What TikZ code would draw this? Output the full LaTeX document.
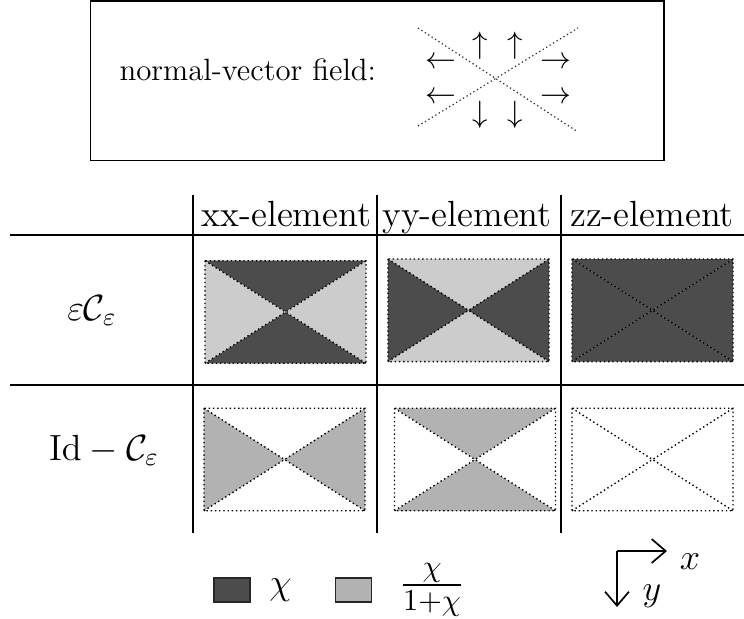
\RequirePackage{fix-cm}
\documentclass[tikz,border=0pt]{standalone}
\usepackage{amsmath}
\usetikzlibrary{arrows.meta,positioning}

\colorlet{chidark}{black!70}
\colorlet{chilight}{black!20}
\colorlet{chimid}{black!30}

% cell name, top/bottom fill, left/right fill
\newcommand{\hglass}[3]{%
  \fill[#2] (#1.north west) -- (#1.north east) -- (#1.center) -- cycle
            (#1.south west) -- (#1.south east) -- (#1.center) -- cycle;
  \fill[#3] (#1.north west) -- (#1.south west) -- (#1.center) -- cycle
            (#1.north east) -- (#1.south east) -- (#1.center) -- cycle;
  \draw[edgedot] (#1.north west) rectangle (#1.south east)
        (#1.north west) -- (#1.south east) (#1.south west) -- (#1.north east);}

\begin{document}
\begin{tikzpicture}[x=0.357pt, y=-0.357pt, >={Straight Barb[length=5pt,width=8.5pt]},
  edgedot/.style={densely dotted, line width=0.5pt},
  cell/.style={minimum width=57.5pt, minimum height=36.6pt, inner sep=0pt, outer sep=0pt},
  head/.style={font=\fontsize{13}{15}\selectfont, anchor=base, inner sep=0pt},
  nv/.style={inner sep=0pt, font=\fontsize{11}{13}\selectfont},
  tline/.style={line width=0.6pt},
  key/.style={draw=black!85, line width=0.5pt, minimum width=12.9pt, minimum height=8.6pt, inner sep=0pt}]
\useasboundingbox (0,0) rectangle (744,618);

% normal-vector box
\draw[line width=0.7pt] (90.5,1) rectangle (664,160.5);
\node[nv, anchor=base west] (nvtext) at (119,80) {normal-vector field:};
\draw[black!80, densely dotted, line width=0.45pt] (418,28) -- (578,132) (418,126) -- (578,28);
\node[nv] (up1) at (480,45.5) {$\uparrow$};
\node[nv] (up2) at (515,45.5) {$\uparrow$};
\node[nv] (dn1) at (480,114.5) {$\downarrow$};
\node[nv] (dn2) at (515,114.5) {$\downarrow$};
\node[nv] (lt1) at (440.5,62.7) {$\leftarrow$};
\node[nv] (lt2) at (440.5,97.7) {$\leftarrow$};
\node[nv] (rt1) at (556,62.7) {$\rightarrow$};
\node[nv] (rt2) at (556,97.7) {$\rightarrow$};

% table rules
\draw[tline] (10,235) -- (744,235) (10,385) -- (744,385);
\foreach \x in {193.3,377.3,560.7}
  \draw[tline] (\x,195) -- (\x,533);

\node[head] (hxx) at (286.5,226) {xx-element};
\node[head] (hyy) at (467,226) {yy-element};
\node[head] (hzz) at (652,226) {zz-element};
\node[head] (rowA) at (92,320) {$\varepsilon\mathcal{C}_\varepsilon$};
\node[head] (rowB) at (104,460) {$\mathrm{Id}-\mathcal{C}_\varepsilon$};

% cells
\node[cell] (XX1) at (285.5,312) {};
\node[cell] (YY1) at (468.5,310.3) {};
\node[cell] (ZZ1) at (652.5,310.3) {};
\node[cell] (XX2) at (284.5,459.5) {};
\node[cell] (YY2) at (475,459.5) {};
\node[cell] (ZZ2) at (652.5,459.5) {};
\hglass{XX1}{chidark}{chilight}
\hglass{YY1}{chilight}{chidark}
\hglass{ZZ1}{chidark}{chidark}
\hglass{XX2}{white}{chimid}
\hglass{YY2}{chimid}{white}
\hglass{ZZ2}{white}{white}

% legend
\node[key, fill=chidark] (kdark) at (232,590) {};
\node[head, anchor=west, right=6.4pt of kdark] (kchi) {$\chi$};
\node[key, fill=chimid] (kmid) at (353.5,590) {};
\node[head, anchor=west, right=9.6pt of kmid, font=\fontsize{15.5}{18}\selectfont] (kfrac) {$\frac{\chi}{1+\chi}$};

% axes
\coordinate (O) at (617,551);
\coordinate (xend) at (667,551);
\coordinate (yend) at (617,607);
\draw[->, line width=0.6pt] (O) -- (xend);
\draw[->, line width=0.6pt] (O) -- (yend);
\node[head, anchor=center] (xlab) at (690,562) {$x$};
\node[head, anchor=center] (ylab) at (652,596) {$y$};
\end{tikzpicture}
\end{document}
